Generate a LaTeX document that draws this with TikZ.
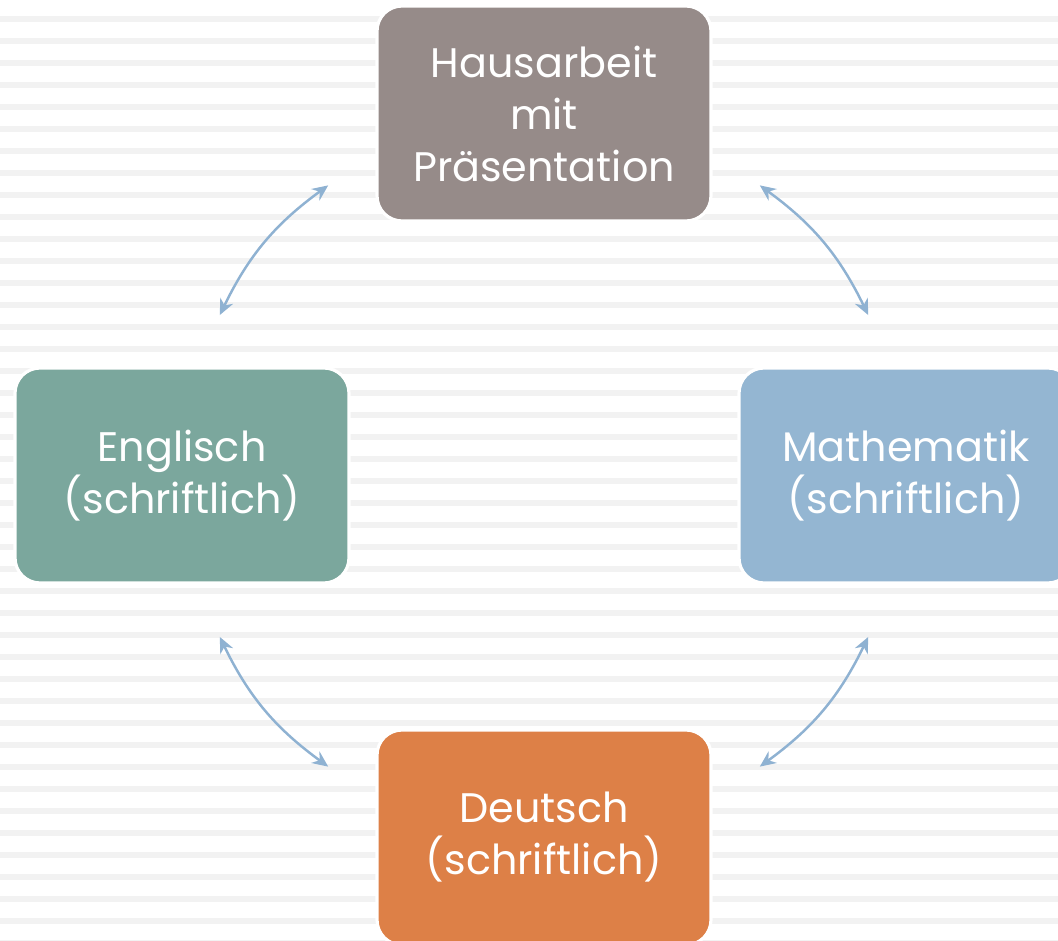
\documentclass[tikz,border=0pt]{standalone}
\usepackage{fontspec}
\setmainfont{Poppins}
\usepackage{tikz}
\usetikzlibrary{positioning, arrows.meta, calc}
\definecolor{grey2}{RGB}{150,139,137}
\definecolor{teal2}{RGB}{123,167,157}
\definecolor{blue2}{RGB}{148,182,210}
\definecolor{orange2}{RGB}{221,128,71}
\definecolor{arrow2}{RGB}{143,178,210}
\definecolor{stripe2}{RGB}{242,242,242}
\tikzset{
  box/.style={rectangle, rounded corners=0.5cm, draw=white, line width=1.8pt, text=white, align=center,
    minimum width=6.68cm, minimum height=4.3cm, inner sep=0pt, font=\fontsize{23.5}{29.6}\selectfont},
  link/.style={{Stealth[length=9pt, width=8pt]}-{Stealth[length=9pt, width=8pt]}, arrow2, line width=1.4pt},
}

\begin{document}
\begin{tikzpicture}[x=0.02cm, y=0.02cm]
	\clip (0,0) rectangle (1058,940);
	\fill[white] (0,0) rectangle (1058,940);
	\foreach \k in {0,...,42} {
		\fill[stripe2] (0,{924-22*\k}) rectangle (1058,{918-22*\k});
	}

	\coordinate (ctr) at (544,464);
	\node[box, fill=grey2] (haus) at (544,826.5) {Hausarbeit\\mit\\Präsentation};
	\node[box, fill=teal2] (engl) at (182,464.5) {Englisch\\(schriftlich)};
	\node[box, fill=blue2] (mathe) at (906,464.5) {Mathematik\\(schriftlich)};
	\node[box, fill=orange2] (deut) at (544,102.5) {Deutsch\\(schriftlich)};

	% arcs on the circle through the box centres
	\foreach \ang [count=\i] in {26.4,126.6,206.4,306.6} {
		\coordinate (p\i) at ($(ctr)+(\ang:362)$);
		\coordinate (q\i) at ($(ctr)+({\ang+27}:362)$);
		\draw[link] (p\i) to[bend right=14] (q\i);
	}
\end{tikzpicture}
\end{document}
